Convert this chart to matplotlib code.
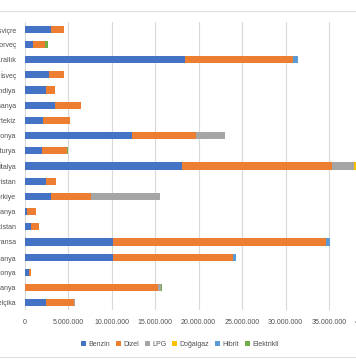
import matplotlib
matplotlib.use('Agg')
from matplotlib import pyplot as plt
from matplotlib.lines import Line2D
from matplotlib.ticker import FuncFormatter
import numpy as np

plt.rcParams['font.family'] = ['Liberation Sans', 'DejaVu Sans']

# countries, top to bottom as in the chart
countries = ['İsviçre', 'Norveç', 'Birleşik Krallık', 'İsveç', 'Finlandiya', 'Romanya',
             'Portekiz', 'Polonya', 'Avusturya', 'İtalya', 'Macaristan', 'Türkiye',
             'Litvanya', 'Hırvatistan', 'Fransa', 'İspanya', 'Estonya', 'Almanya', 'Belçika']

# values in millions of cars
benzin =    [3.07, 0.96, 18.5, 2.76, 2.42, 3.46, 2.10, 12.4, 2.03, 18.1, 2.42, 3.07, 0.30, 0.77, 10.2, 10.2, 0.50, 0.0, 2.50]
dizel =     [1.46, 1.34, 12.4, 1.77, 1.04, 2.99, 3.08, 7.30, 2.87, 17.3, 1.15, 4.61, 0.97, 0.84, 24.5, 13.8, 0.27, 15.4, 3.18]
lpg =       [0.0, 0.0, 0.0, 0.0, 0.0, 0.0, 0.0, 3.30, 0.0, 2.50, 0.0, 7.90, 0.0, 0.0, 0.0, 0.0, 0.0, 0.25, 0.08]
dogalgaz =  [0.0, 0.0, 0.0, 0.0, 0.0, 0.0, 0.0, 0.0, 0.0, 1.00, 0.0, 0.0, 0.0, 0.0, 0.0, 0.0, 0.0, 0.0, 0.0]
hibrit =    [0.0, 0.05, 0.50, 0.0, 0.0, 0.0, 0.0, 0.0, 0.0, 0.0, 0.0, 0.0, 0.0, 0.0, 0.40, 0.30, 0.0, 0.0, 0.0]
elektrik =  [0.0, 0.30, 0.0, 0.06, 0.0, 0.06, 0.10, 0.0, 0.06, 0.0, 0.0, 0.0, 0.0, 0.0, 0.0, 0.0, 0.03, 0.10, 0.0]

series = [('Benzin', benzin, '#4472C4'), ('Dizel', dizel, '#ED7D31'), ('LPG', lpg, '#A5A5A5'),
          ('Doğalgaz', dogalgaz, '#FFC000'), ('Hibrit', hibrit, '#5B9BD5'),
          ('Elektrikli', elektrik, '#70AD47')]

fig = plt.figure(figsize=(3.56, 3.64), dpi=100)
ax = fig.add_axes([24.5 / 356, 0.1475, 348 / 356, 0.793])

y = np.arange(len(countries))
left = np.zeros(len(countries))
for name, vals, col in series:
    v = np.array(vals) * 1e6
    ax.barh(y, v, left=left, height=0.47, color=col, label=name, zorder=3)
    left += v

ax.set_ylim(len(countries) - 0.5, -0.5)
ax.set_xlim(0, 40e6)
ax.set_xticks(np.arange(0, 40e6 + 1, 5e6))
ax.xaxis.set_major_formatter(FuncFormatter(lambda x, p: '{:,.0f}'.format(x).replace(',', '.')))
ax.set_yticks(y)
ax.set_yticklabels(countries)
ax.tick_params(axis='both', length=0, labelsize=5, colors='#505050')
ax.tick_params(axis='x', pad=6)
ax.tick_params(axis='y', pad=6)
ax.grid(axis='x', color='#D9D9D9', linewidth=0.8, zorder=0)
for s in ax.spines.values():
    s.set_visible(False)

leg = fig.legend(loc='center', bbox_to_anchor=(0.505, 1 - 344 / 364), ncol=6, frameon=False,
                 fontsize=5, handlelength=0.7, handleheight=0.7, handletextpad=0.3,
                 columnspacing=0.9, labelcolor='#505050')

# chart border lines
fig.add_artist(Line2D([0, 1], [1 - 10.7 / 364, 1 - 10.7 / 364], color='#E0E0E0', linewidth=0.8))
fig.add_artist(Line2D([0, 1], [1 - 357 / 364, 1 - 357 / 364], color='#E0E0E0', linewidth=0.8))

fig.savefig('out.png', dpi=100)
